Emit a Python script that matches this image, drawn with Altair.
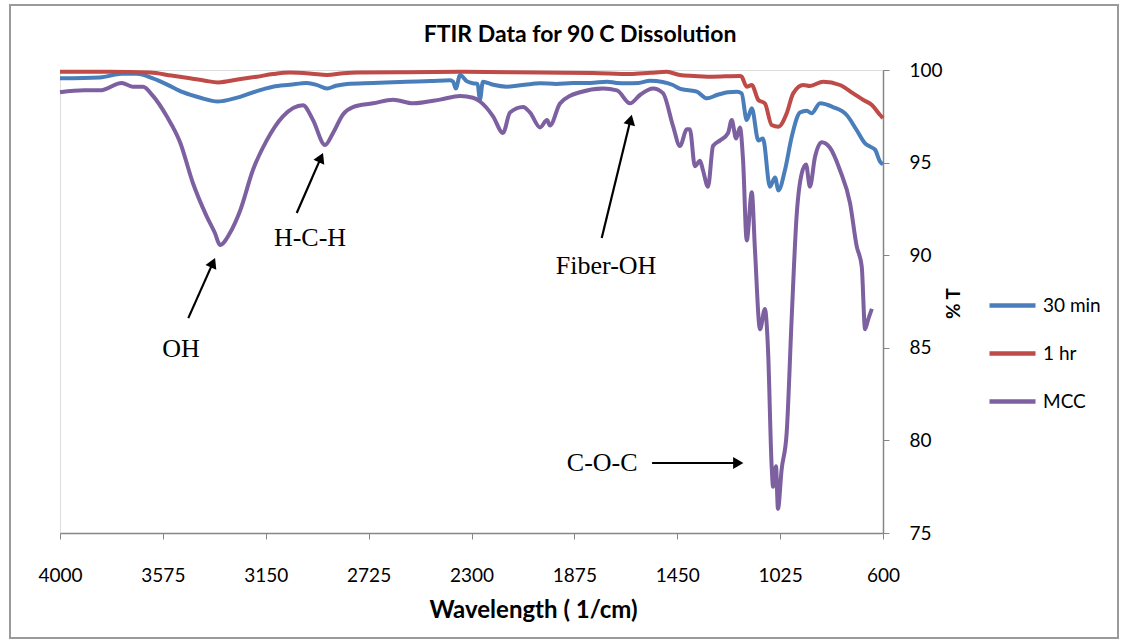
import altair as alt
import pandas as pd

# ---- data ----
wn_30min = [4000, 3835, 3745, 3682, 3616, 3555, 3492, 3420, 3347, 3300, 3256, 3190, 3120, 3050,
            2980, 2940, 2897, 2860, 2814, 2707, 2567, 2470, 2389, 2376, 2365, 2347, 2320, 2294,
            2275, 2265, 2253, 2210, 2155, 2080, 2017, 1950, 1881, 1810, 1740, 1700, 1658, 1610,
            1563, 1510, 1468, 1440, 1410, 1369, 1327, 1286, 1240, 1203, 1184, 1163, 1142, 1115,
            1096, 1067, 1046, 1032, 1005, 977, 943, 915, 895, 860, 807, 750, 709, 674, 653, 633,
            612, 600]
pt_30min = [99.55, 99.6, 99.8, 99.8, 99.55, 99.2, 98.8, 98.5, 98.3, 98.4, 98.55, 98.85, 99.1, 99.2,
            99.3, 99.2, 99.0, 99.15, 99.25, 99.3, 99.37, 99.4, 99.45, 99.37, 99.0, 99.73, 99.4, 99.28,
            99.25, 98.4, 99.37, 99.2, 99.1, 99.2, 99.28, 99.25, 99.3, 99.3, 99.37, 99.3, 99.28, 99.3,
            99.42, 99.35, 99.19, 99.0, 98.92, 98.83, 98.47, 98.65, 98.8, 98.83, 98.74, 97.3, 97.93, 96.2,
            96.3, 93.7, 94.2, 93.5, 94.6, 96.4, 97.7, 97.8, 97.66, 98.2, 98.0, 97.57, 96.76, 96.04, 95.86, 95.7,
            95.05, 94.9]

wn_1hr = [4000, 3800, 3628, 3540, 3463, 3400, 3347, 3260, 3186, 3120, 3050, 2960, 2897, 2830, 2773,
          2600, 2347, 2017, 1800, 1645, 1560, 1493, 1439, 1380, 1327, 1250, 1191, 1184, 1163, 1142,
          1115, 1088, 1060, 1032, 998, 971, 929, 902, 847, 778, 723, 681, 646, 612, 600]
pt_1hr = [99.9, 99.9, 99.86, 99.7, 99.55, 99.42, 99.33, 99.5, 99.64, 99.78, 99.86, 99.8, 99.73, 99.82, 99.86,
          99.88, 99.9, 99.86, 99.84, 99.78, 99.85, 99.9, 99.73, 99.68, 99.64, 99.66, 99.68, 99.64, 99.1, 99.19,
          98.38, 98.2, 97.03, 96.94, 97.66, 98.74, 99.19, 99.14, 99.37, 99.19, 98.74, 98.38, 98.11, 97.57, 97.4]

wn_mcc = [4000, 3900, 3835, 3745, 3700, 3657, 3616, 3559, 3504, 3451, 3394, 3360, 3339, 3298, 3256,
          3203, 3146, 3079, 2996, 2955, 2905, 2872, 2831, 2790, 2707, 2624, 2542, 2430, 2347, 2294,
          2265, 2211, 2170, 2141, 2087, 2058, 2017, 1988, 1976, 1934, 1852, 1757, 1699, 1645, 1604,
          1550, 1509, 1468, 1439, 1410, 1398, 1377, 1356, 1344, 1323, 1302, 1273, 1240, 1225, 1207,
          1191, 1178, 1163, 1142, 1129, 1108, 1088, 1075, 1060, 1054, 1042, 1034, 1019, 998, 977,
          957, 936, 918, 902, 881, 853, 819, 778, 736, 709, 688, 674, 662, 646]
pt_mcc = [98.8, 98.9, 98.9, 99.3, 99.1, 99.1, 98.6, 97.5, 96.1, 93.9, 92.1, 91.2, 90.55, 91.2, 92.4,
          94.6, 96.2, 97.5, 98.1, 97.3, 95.95, 96.6, 97.6, 98.0, 98.2, 98.4, 98.2, 98.4, 98.6, 98.5,
          98.3, 97.5, 96.6, 97.7, 98.0, 97.7, 96.9, 97.3, 97.0, 98.2, 98.8, 99.0, 98.9, 98.2, 98.65,
          99.0, 98.75, 97.0, 95.9, 96.8, 96.8, 94.8, 95.1, 94.6, 93.7, 95.9, 96.2, 96.6, 97.3, 96.3,
          96.9, 95.1, 90.8, 93.4, 90.3, 86.0, 87.1, 84.9, 78.6, 77.5, 78.6, 76.3, 78.4, 80.4, 86.7,
          92.1, 94.4, 94.9, 93.7, 95.3, 96.1, 95.8, 94.6, 92.8, 90.5, 89.4, 86.0, 86.5, 87.1]

series_names = ["30 min", "1 hr", "MCC"]
series_colors = ["#4A7EBB", "#BE4B48", "#7D60A0"]
x_ticks = [4000, 3575, 3150, 2725, 2300, 1875, 1450, 1025, 600]
y_ticks = [75, 80, 85, 90, 95, 100]
chart_title = "FTIR Data for 90 C Dissolution"

# annotations
label_text = ["OH", "H-C-H", "Fiber-OH", "C-O-C"]
label_wn = [3500, 2967, 1744, 1760]
label_pt = [84.94, 90.93, 89.42, 78.78]
arrow_wn = [3470, 3022, 1762, 1554]
arrow_pt = [86.6, 92.28, 90.93, 78.78]
arrow_wn2 = [3368, 2922, 1643, 1198]
arrow_pt2 = [89.6, 95.27, 97.31, 78.78]
arrow_angle = [24, 24, 14, 90]

rows = []
for name, xs, ys in [("30 min", wn_30min, pt_30min), ("1 hr", wn_1hr, pt_1hr), ("MCC", wn_mcc, pt_mcc)]:
    for i, (a, b) in enumerate(zip(xs, ys)):
        rows.append({"series": name, "wn": a, "pt": b, "order": i})
df = pd.DataFrame(rows)

ann = pd.DataFrame({"text": label_text, "wn": label_wn, "pt": label_pt})
arr = pd.DataFrame({"wn": arrow_wn, "pt": arrow_pt, "wn2": arrow_wn2, "pt2": arrow_pt2, "angle": arrow_angle})

xscale = alt.Scale(domain=[600, 4000], reverse=True, nice=False, zero=False)
yscale = alt.Scale(domain=[75, 100], nice=False, zero=False)

lines = alt.Chart(df).mark_line(strokeWidth=4, clip=False, interpolate="monotone").encode(
    x=alt.X("wn:Q", scale=xscale, axis=alt.Axis(
        values=x_ticks, title="Wavelength ( 1/cm)", grid=False, tickSize=6,
        labelPadding=27, labelFontSize=19, labelFont="Lato", labelColor="#000",
        titleFont="Lato", titleFontSize=24, titleFontWeight="bold", titleColor="#000",
        titleX=473, titleY=77, titleAlign="center", titleBaseline="middle",
        domainColor="#868686", tickColor="#868686", domainWidth=1.5,
        labelFlush=False, format="d")),
    y=alt.Y("pt:Q", scale=yscale, axis=alt.Axis(
        orient="right", values=y_ticks, title="% T", grid=False, tickSize=6,
        labelPadding=20, labelAlign="left", labelFontSize=19, labelFont="Lato", labelColor="#000",
        titleFont="Lato", titleFontSize=19, titleFontWeight="bold", titleColor="#000",
        titleAngle=270, titleX=70, titleY=233, titleAlign="center", titleBaseline="middle",
        domainColor="#868686", tickColor="#868686", domainWidth=1.5)),
    color=alt.Color("series:N", scale=alt.Scale(domain=series_names, range=series_colors),
                    legend=alt.Legend(title=None, orient="none", legendX=927, legendY=210,
                                      symbolType="stroke", symbolSize=2116, symbolStrokeWidth=4.5,
                                      labelFontSize=19, labelFont="Lato", labelColor="#000",
                                      labelOffset=5, rowPadding=12, padding=0)),
    order="order:Q",
    detail="series:N",
)

texts = alt.Chart(ann).mark_text(font="Liberation Serif", fontSize=26, color="#000",
                                 align="center", baseline="middle").encode(
    x=alt.X("wn:Q", scale=xscale), y=alt.Y("pt:Q", scale=yscale), text="text:N")

title_mark = alt.Chart(pd.DataFrame({"t": [chart_title]})).mark_text(
    font="Lato", fontSize=23, fontWeight="bold", color="#000", align="center", baseline="middle"
).encode(x=alt.value(520), y=alt.value(-35), text="t:N")

shafts = alt.Chart(arr).mark_rule(strokeWidth=2.2, color="#000").encode(
    x=alt.X("wn:Q", scale=xscale), y=alt.Y("pt:Q", scale=yscale),
    x2="wn2:Q", y2="pt2:Q")

heads = alt.Chart(arr).mark_point(shape="triangle-up", filled=True, size=140, color="#000", opacity=1).encode(
    x=alt.X("wn2:Q", scale=xscale), y=alt.Y("pt2:Q", scale=yscale),
    angle=alt.Angle("angle:Q", scale=None))

border = alt.Chart(pd.DataFrame({"k": [0]})).mark_rect(
    fillOpacity=0, stroke="#9a9a9a", strokeWidth=2).encode(
    x=alt.value(-50), x2=alt.value(1058), y=alt.value(-65), y2=alt.value(568))

chart = alt.layer(border, lines, shafts, heads, texts, title_mark).properties(
    width=823, height=463,
    autosize=alt.AutoSizeParams(type="none"),
    padding={"left": 60, "top": 70, "right": 246, "bottom": 107},
).configure_view(stroke=None).configure(background="white")

chart.save("out.html", embed_options={"renderer": "svg", "actions": False})
